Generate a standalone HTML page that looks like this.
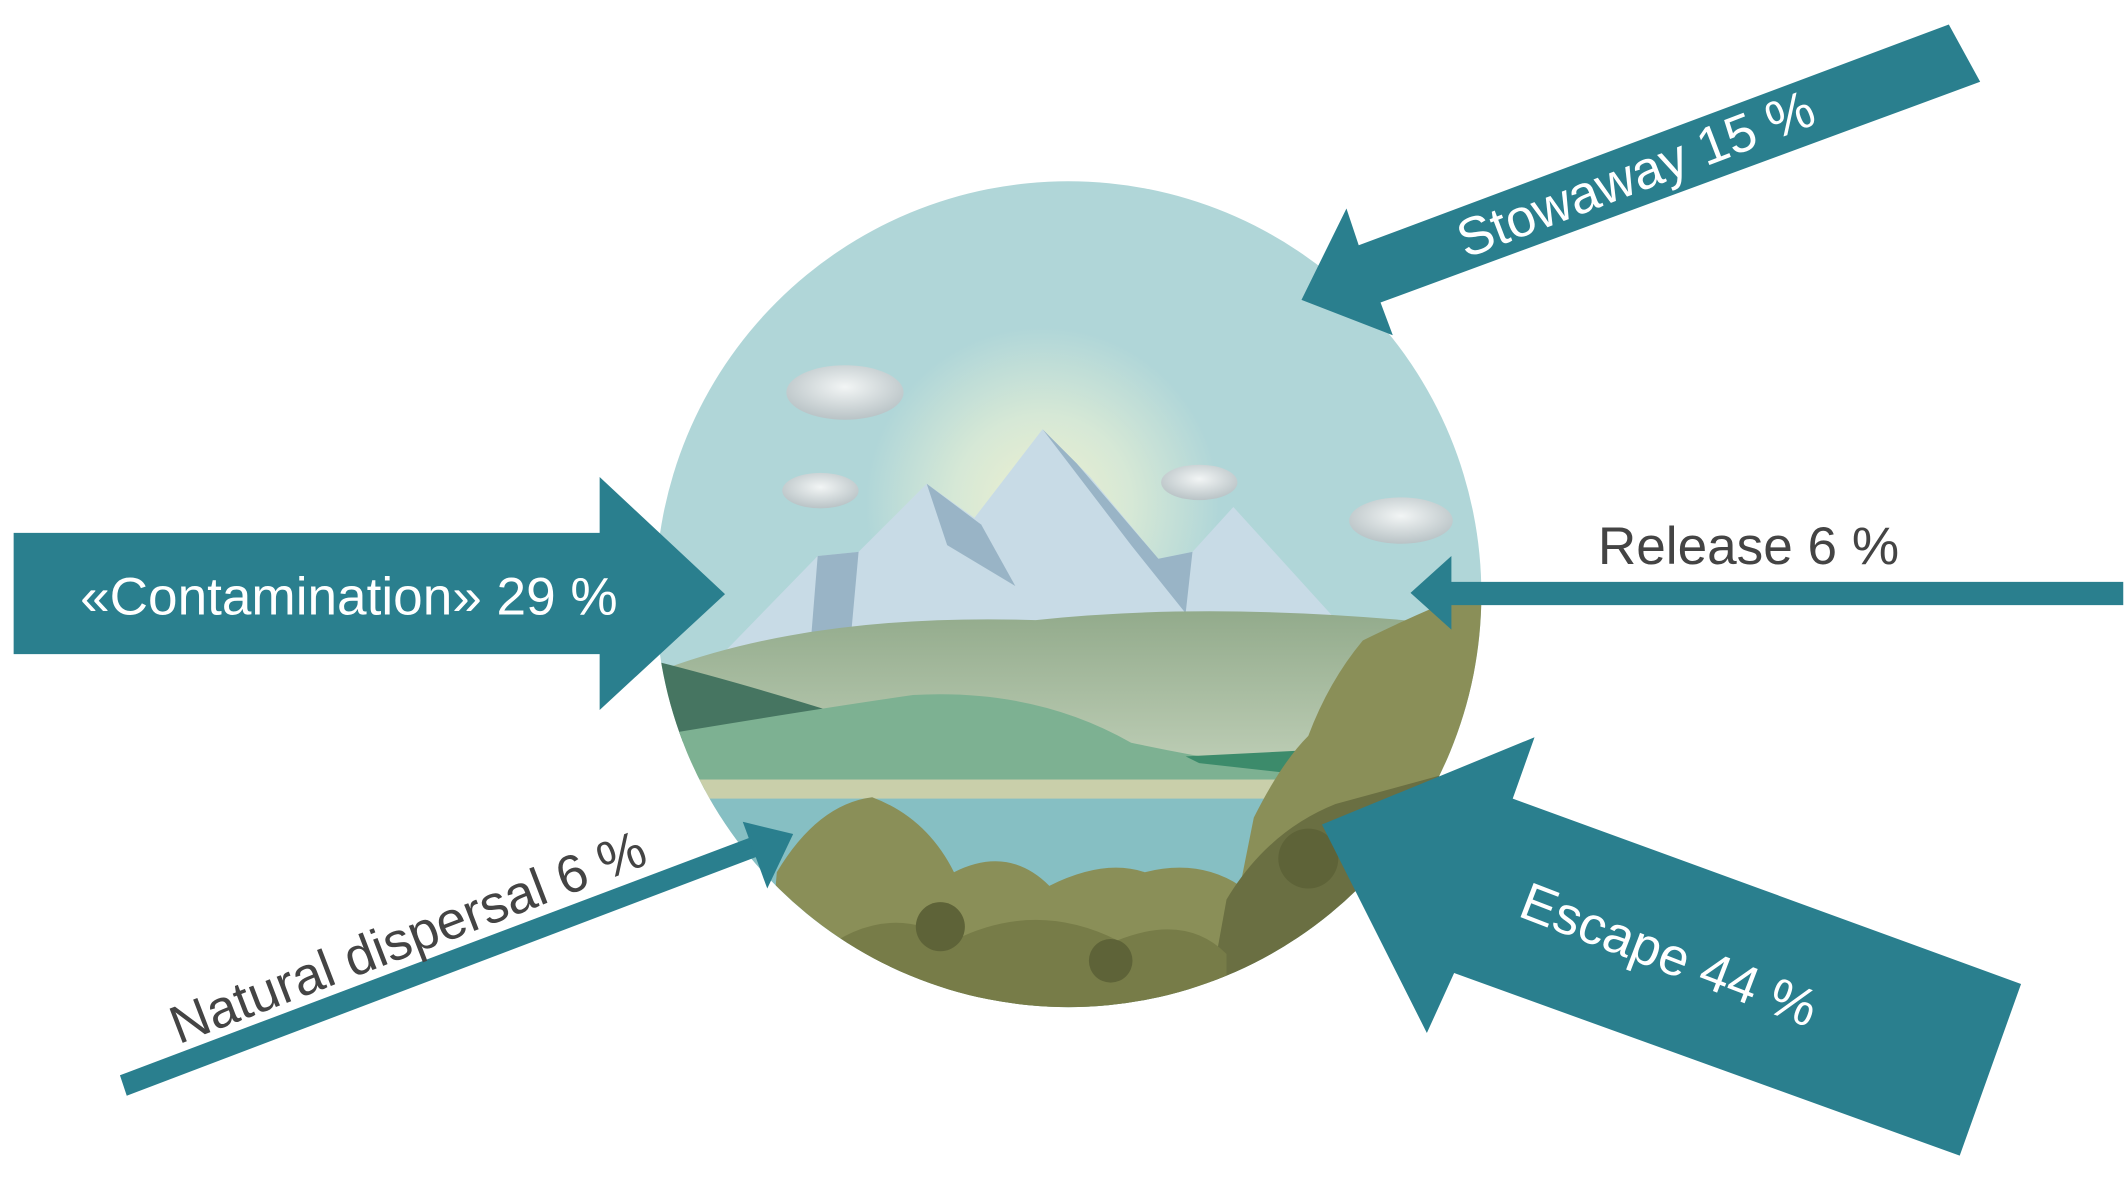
<!DOCTYPE html>
<html><head><meta charset="utf-8"><style>
html,body{margin:0;padding:0;background:#fff;}
svg{display:block;}
text{font-family:"Liberation Sans",sans-serif;}
</style></head><body>
<svg width="2126" height="1181" viewBox="0 0 1560 866.6" xmlns="http://www.w3.org/2000/svg">
<defs>
<clipPath id="c"><circle cx="784" cy="436" r="303"/></clipPath>
<radialGradient id="sun" cx="765" cy="370" r="130" gradientUnits="userSpaceOnUse">
<stop offset="0" stop-color="#eef0cf"/><stop offset="0.5" stop-color="#d6e8d6"/><stop offset="1" stop-color="#b0d6d8"/></radialGradient>
<linearGradient id="hill" x1="0" y1="450" x2="0" y2="580" gradientUnits="userSpaceOnUse">
<stop offset="0" stop-color="#93ab8c"/><stop offset="1" stop-color="#c4d3bc"/></linearGradient>
<radialGradient id="cl" cx="0.5" cy="0.4" r="0.6"><stop offset="0" stop-color="#f2f5f5"/><stop offset="1" stop-color="#b9c3c6"/></radialGradient>
</defs>
<g clip-path="url(#c)">
<rect x="470" y="120" width="640" height="640" fill="#b0d6d8"/>
<circle cx="765" cy="370" r="130" fill="url(#sun)"/>
<ellipse cx="620" cy="288" rx="43" ry="20" fill="url(#cl)"/>
<ellipse cx="602" cy="360" rx="28" ry="13" fill="url(#cl)"/>
<ellipse cx="880" cy="354" rx="28" ry="13" fill="url(#cl)"/>
<ellipse cx="1028" cy="382" rx="38" ry="17" fill="url(#cl)"/>
<polygon points="530,480 600,408 630,405 680,355 715,380 765,315 800,350 850,410 875,405 905,372 985,460 960,480" fill="#c8dbe6"/>
<polygon points="600,408 630,405 625,460 595,470" fill="#99b4c6"/>
<polygon points="680,355 695,400 745,430 720,385" fill="#99b4c6"/>
<polygon points="765,315 790,340 850,410 875,405 870,450 830,400" fill="#99b4c6"/>
<path d="M490,490 Q600,450 760,455 Q900,440 1080,460 L1090,600 L480,600 Z" fill="url(#hill)"/>
<path d="M480,485 Q540,500 620,525 L600,540 L480,545 Z" fill="#467561"/>
<path d="M480,540 Q600,520 670,510 Q760,505 830,545 Q900,560 980,570 L980,580 L480,580 Z" fill="#7db192"/>
<path d="M870,555 L970,550 L970,570 L880,560 Z" fill="#3c8b6b"/>
<rect x="480" y="572" width="500" height="14" fill="#c9cfaa"/>
<rect x="480" y="586" width="620" height="180" fill="#86bfc3"/>
<path d="M560,760 L570,640 Q600,590 640,585 Q680,600 700,640 Q740,620 770,650 Q810,630 840,640 Q880,630 910,650 L920,600 Q940,560 960,540 Q975,500 1000,470 Q1040,450 1090,430 L1090,770 Z" fill="#8a8f58"/>
<path d="M900,660 Q930,610 980,590 L1090,560 L1090,770 L880,770 Z" fill="#6a6f42"/>
<path d="M600,700 Q650,660 700,690 Q760,660 820,690 Q870,670 900,700 L900,760 L600,760 Z" fill="#777c48"/>
<circle cx="690" cy="680" r="18" fill="#5e6338"/>
<circle cx="815" cy="705" r="16" fill="#5e6338"/>
<circle cx="960" cy="630" r="22" fill="#5e6338"/>
</g>
<polygon points="10,391 440,391 440,350 532,436 440,521 440,480 10,480" fill="#2a7f8e"/>
<text x="256" y="451" font-size="39" fill="#fff" text-anchor="middle">«Contamination» 29 %</text>
<polygon points="1558,427 1065,427 1065,408 1035,435 1065,462 1065,444 1558,444" fill="#2a7f8e"/>
<text x="1283" y="414" font-size="39" fill="#444" text-anchor="middle">Release 6 %</text>
<polygon points="955,220 988,153 997,180 1430,18 1453,60 1013,222 1022,246" fill="#2a7f8e"/>
<text x="0" y="0" font-size="39" fill="#fff" text-anchor="middle" transform="translate(1205,140) rotate(-21)">Stowaway 15 %</text>
<polygon points="970,605 1126,541 1110,586 1483,722 1438,848 1067,714 1047,758" fill="#2a7f8e"/>
<text x="0" y="0" font-size="39" fill="#fff" text-anchor="middle" transform="translate(1220,713) rotate(21)">Escape 44 %</text>
<polygon points="88,789 552,614 557,628 93,804" fill="#2a7f8e"/>
<polygon points="582,612 545,603 563,652" fill="#2a7f8e"/>
<text x="0" y="0" font-size="39" fill="#444" text-anchor="middle" transform="translate(304,700) rotate(-21)">Natural dispersal 6 %</text>
</svg>
</body></html>
